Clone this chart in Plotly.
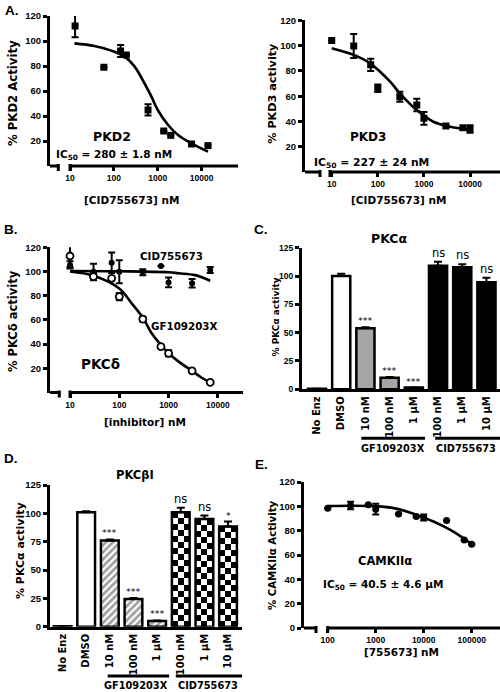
import base64
import plotly.graph_objects as go

W, H = 500, 692

# ---------------- data ----------------
# Panel A (left): PKD2
pkd2_conc = [13, 59, 142, 192, 600, 1370, 1980, 5900, 14000]
pkd2_act = [112, 79, 92, 88.8, 44.8, 28, 24.5, 17.6, 16.3]
pkd2_err = [9, 0, 4.7, 0, 4.5, 0, 0, 0, 0]
pkd2_fit_conc = [12.6, 36, 87, 176, 297, 500, 718, 1000, 1720, 2900, 5850, 14000]
pkd2_fit_act = [98.1, 96, 92.3, 87.5, 79.5, 66, 55.5, 44.8, 32.8, 24.8, 18.1, 11.5]

# Panel A (right): PKD3
pkd3_conc = [10, 30, 70, 100, 300, 700, 1000, 3000, 7000, 10000]
pkd3_act = [104, 99.8, 84.8, 66.3, 59.6, 53, 42.5, 36.4, 35, 34]
pkd3_err = [0, 9.5, 4.8, 3, 4, 5, 5, 0, 0, 3]
pkd3_fit_conc = [10, 30, 68, 185, 300, 700, 1600, 3700, 11000]
pkd3_fit_act = [98, 92.7, 86, 71.5, 62.3, 49, 39.8, 35.9, 33.3]

# Panel B: PKC delta
pkcd_conc = [10, 30, 70, 100, 300, 700, 1000, 3000, 7000]
cid_act = [105.4, 99.8, 107.3, 99.8, 99.3, 104.5, 91, 90.2, 101.2]
cid_err = [3, 6.6, 8.5, 9.6, 2.5, 0, 4, 3.5, 2.5]
gf_act = [112.8, 95.7, 94.4, 79.2, 60.7, 37.9, 32.4, 17.8, 8.4]
gf_err = [9, 3, 0, 3, 2, 0, 2.5, 0, 0]
cid_fit_conc = [10, 100, 1000, 1600, 3450, 7000]
cid_fit_act = [100.4, 100.2, 99.4, 98.5, 97, 92.4]
gf_fit_conc = [10, 30, 100, 178, 300, 454, 700, 1000, 1600, 3000, 4700, 7000]
gf_fit_act = [100, 96.5, 86, 73.7, 62, 48.9, 39.3, 32.4, 25.5, 17.8, 12.2, 8.4]

# Panels C and D: bar categories
bar_labels = ["No Enz", "DMSO", "10 nM", "100 nM", "1 \u03bcM", "100 nM", "1 \u03bcM", "10 \u03bcM"]
group_names = ["GF109203X", "CID755673"]

pkca_act = [0.5, 100, 53.8, 10.3, 1.5, 109, 107.7, 94.4]
pkca_err = [0, 2, 1, 0.6, 0, 3.6, 2.6, 4]
pkca_sig = ["", "", "***", "***", "***", "ns", "ns", "ns"]

pkcb_act = [0.5, 101, 76, 24.5, 5, 101, 95, 88.3]
pkcb_err = [0, 0.8, 1, 0.8, 0.5, 4, 3, 4.4]
pkcb_sig = ["", "", "***", "***", "***", "ns", "ns", "*"]

# Panel E: CAMKII alpha
camk_conc = [100, 300, 700, 1000, 3000, 7000, 10000, 30000, 70000, 100000]
camk_act = [98.5, 100.7, 101.2, 97.7, 93.8, 91.6, 90.8, 88.3, 72.4, 68.9]
camk_err = [0, 3, 0, 4.5, 0, 0, 2.5, 0, 0, 0]
camk_fit_conc = [100, 1200, 3000, 7000, 16000, 36000, 67000, 100000]
camk_fit_act = [100.3, 100, 97.7, 93, 87.5, 80.6, 73.8, 68.9]

# tick values
log_ticks_nm = [10, 100, 1000, 10000]
log_ticks_e = [100, 1000, 10000, 100000]
pct_ticks = [20, 40, 60, 80, 100, 120]
pct_ticks_e = [0, 20, 40, 60, 80, 100, 120]
bar_ticks = [0, 25, 50, 75, 100, 125]

# ---------------- styles ----------------
TICKF = dict(family="Liberation Sans, Arial, sans-serif", size=9.5, color="black", weight="bold")
TICKF_S = dict(family="Liberation Sans, Arial, sans-serif", size=8.5, color="black", weight="bold")
TXT = "DejaVu Sans, sans-serif"
LET = "Liberation Sans, Arial, sans-serif"
C_FILL_C = ["white", "white", "#a5a5a5", "#a5a5a5", "#a5a5a5", "black", "black", "black"]
D_FILL = ["white", "white", "white", "white", "white", "rgba(0,0,0,0)", "rgba(0,0,0,0)", "rgba(0,0,0,0)"]
D_PATTERN = ["", "", "/", "/", "/", "", "", ""]
BAR_W = 0.75


def yfrac(p):
    return 1 - p / H


def xaxis_log(dom, rng, vals, anchor):
    return dict(type="log", domain=[dom[0] / W, dom[1] / W], range=rng,
                tickmode="array", tickvals=vals, ticktext=[str(v) for v in vals],
                ticks="outside", ticklen=4, tickwidth=2.5, tickcolor="black",
                showline=False, showgrid=False, zeroline=False, tickfont=TICKF_S,
                anchor=anchor, fixedrange=True, automargin=False)


def xaxis_cat(dom, rng, anchor):
    idx = list(range(len(bar_labels)))
    return dict(domain=[dom[0] / W, dom[1] / W], range=rng, tickmode="array",
                tickvals=idx, ticktext=bar_labels, tickangle=-90, ticks="",
                showline=True, linewidth=3, linecolor="black", showgrid=False,
                zeroline=False, anchor=anchor, fixedrange=True, automargin=False,
                tickfont=dict(family=TXT, size=10, color="black", weight="bold"))


def yaxis_cfg(dom, rng, vals, anchor, tf=TICKF):
    return dict(domain=[yfrac(dom[1]), yfrac(dom[0])], range=rng, tickmode="array",
                tickvals=vals, ticktext=[str(v) for v in vals], ticks="outside",
                ticklen=4, tickwidth=2.5, tickcolor="black", showline=True,
                linewidth=3, linecolor="black", showgrid=False, zeroline=False,
                tickfont=tf, anchor=anchor, fixedrange=True, automargin=False)


def ann(text, xp, yp, size, family=TXT, weight="bold", angle=0, xanchor="center"):
    return dict(text=text, x=xp / W, y=yfrac(yp), xref="paper", yref="paper",
                showarrow=False, xanchor=xanchor, yanchor="middle", textangle=angle,
                font=dict(family=family, size=size, weight=weight, color="black"))


def broken_axis(x0, seg_end, seg_start, x1, yp):
    y = yfrac(yp)
    ln = dict(color="black", width=3)
    return [
        dict(type="line", xref="paper", yref="paper", x0=x0 / W, x1=seg_end / W, y0=y, y1=y, line=ln),
        dict(type="line", xref="paper", yref="paper", x0=seg_start / W, x1=x1 / W, y0=y, y1=y, line=ln),
        dict(type="line", xref="paper", yref="paper", x0=seg_end / W, x1=seg_end / W,
             y0=yfrac(yp - 2), y1=yfrac(yp + 5), line=dict(color="black", width=3)),
        dict(type="line", xref="paper", yref="paper", x0=seg_start / W, x1=seg_start / W,
             y0=yfrac(yp - 2), y1=yfrac(yp + 5), line=dict(color="black", width=3)),
    ]


def checker_src(ncols, nrows):
    rects = "".join(
        f'<rect x="{c}" y="{r}" width="1" height="1"/>'
        for r in range(nrows) for c in range(ncols) if (r + c) % 2 == 0)
    svg = (f'<svg xmlns="http://www.w3.org/2000/svg" width="{ncols * 10}" height="{nrows * 10}" '
           f'viewBox="0 0 {ncols} {nrows}" preserveAspectRatio="none" shape-rendering="crispEdges">'
           f'<rect width="{ncols}" height="{nrows}" fill="white"/><g fill="black">{rects}</g></svg>')
    return "data:image/svg+xml;base64," + base64.b64encode(svg.encode()).decode()


fig = go.Figure()

ebar = dict(type="data", thickness=2, width=3.5, color="black", visible=True)

def add_scatter(x, y, err, xa, ya, symbol, size, color="black", lw=0):
    fig.add_trace(go.Scatter(
        x=x, y=y, mode="markers", xaxis=xa, yaxis=ya,
        error_y=dict(ebar, array=err),
        marker=dict(symbol=symbol, size=size, color=color, line=dict(color="black", width=lw)),
        hoverinfo="skip"))

def add_fit(x, y, xa, ya):
    fig.add_trace(go.Scatter(
        x=x, y=y, mode="lines", xaxis=xa, yaxis=ya,
        line=dict(color="black", width=2.6, shape="spline", smoothing=1.0),
        hoverinfo="skip"))

# Panel A left
add_fit(pkd2_fit_conc, pkd2_fit_act, "x", "y")
add_scatter(pkd2_conc, pkd2_act, pkd2_err, "x", "y", "square", 7)
# Panel A right
add_fit(pkd3_fit_conc, pkd3_fit_act, "x2", "y2")
add_scatter(pkd3_conc, pkd3_act, pkd3_err, "x2", "y2", "square", 7)
# Panel B
add_fit(cid_fit_conc, cid_fit_act, "x3", "y3")
add_fit(gf_fit_conc, gf_fit_act, "x3", "y3")
add_scatter(pkcd_conc, cid_act, cid_err, "x3", "y3", "circle", 6)
add_scatter(pkcd_conc, gf_act, gf_err, "x3", "y3", "circle", 7, color="white", lw=1.8)
# Panel E
add_fit(camk_fit_conc, camk_fit_act, "x6", "y6")
add_scatter(camk_conc, camk_act, camk_err, "x6", "y6", "circle", 7)

idx = list(range(len(bar_labels)))
bar_err = dict(type="data", symmetric=False, thickness=2, width=4, color="black")
# Panel C
fig.add_trace(go.Bar(
    x=idx, y=pkca_act, width=BAR_W, xaxis="x4", yaxis="y4",
    marker=dict(color=C_FILL_C, line=dict(color="black", width=2.5)),
    error_y=dict(bar_err, array=pkca_err, arrayminus=[0] * len(idx)),
    hoverinfo="skip"))
# Panel D
fig.add_trace(go.Bar(
    x=idx, y=pkcb_act, width=BAR_W, xaxis="x5", yaxis="y5",
    marker=dict(color=D_FILL, line=dict(color="black", width=2.5),
                pattern=dict(shape=D_PATTERN, fgcolor="black", bgcolor="white",
                             size=5, solidity=0.55)),
    error_y=dict(bar_err, array=pkcb_err, arrayminus=[0] * len(idx)),
    hoverinfo="skip"))

# ---------------- layout ----------------
D_DOM_Y = (485, 626.7)
d_px_per_unit = (D_DOM_Y[1] - D_DOM_Y[0]) / 125
images = []
for i in idx[5:]:
    h_px = pkcb_act[i] * d_px_per_unit
    nrows = max(1, round(h_px / 5.9))
    images.append(dict(source=checker_src(3, nrows), xref="x5", yref="y5",
                       x=i - BAR_W / 2, y=pkcb_act[i], sizex=BAR_W, sizey=pkcb_act[i],
                       xanchor="left", yanchor="top", sizing="stretch", layer="below"))

shapes = []
shapes += broken_axis(50, 58.3, 70, 238, 166)
shapes += broken_axis(305, 320, 330, 500, 172)
shapes += broken_axis(50, 59.3, 70, 243, 392.5)
shapes += broken_axis(304, 316, 327.7, 500, 628)

# group lines under bar labels
for xa, yp, gf_rng, cid_rng in [("x4", 438.3, (1.83, 4.46), (4.88, 7.6)),
                                ("x5", 676, (1.91, 4.51), (4.79, 7.6))]:
    for r in (gf_rng, cid_rng):
        shapes.append(dict(type="line", xref=xa, yref="paper", x0=r[0], x1=r[1],
                           y0=yfrac(yp), y1=yfrac(yp), line=dict(color="black", width=3)))

annotations = [
    ann("A.", 3, 10, 13.5, family=LET, xanchor="left"),
    ann("B.", 2, 229, 13.5, family=LET, xanchor="left"),
    ann("C.", 252, 229, 13.5, family=LET, xanchor="left"),
    ann("D.", 2, 458, 13.5, family=LET, xanchor="left"),
    ann("E.", 253, 464, 13.5, family=LET, xanchor="left"),
    # Panel A left
    ann("% PKD2 Activity", 13, 93, 11.7, angle=-90),
    ann("[CID755673] nM", 131.7, 200, 10.5),
    ann("PKD2", 111.7, 136.7, 12.5),
    ann("IC<sub>50</sub> = 280 \u00b1 1.8 nM", 114, 155, 10.5),
    # Panel A right
    ann("% PKD3 activity", 271.7, 93, 11.2, angle=-90),
    ann("[CID755673] nM", 398.3, 200, 10.5),
    ann("PKD3", 367.5, 136.7, 12),
    ann("IC<sub>50</sub> = 227 \u00b1 24 nM", 371.7, 163, 10.8),
    # Panel B
    ann("% PKC\u03b4 activity", 13, 321, 11.5, angle=-90),
    ann("[inhibitor] nM", 145, 421.7, 10.5),
    ann("CID755673", 171.5, 256, 10.3),
    ann("GF109203X", 184.2, 326, 10.3),
    ann("PKC\u03b4", 100, 364, 13.5),
    # Panel C
    ann("PKC\u03b1", 389, 238, 12.5),
    ann("% PKC\u03b1 activity", 275, 317.5, 9, angle=-90),
    # Panel D
    ann("PKC\u03b2I", 135, 475, 11.5),
    ann("% PKC\u03b1 activity", 20, 551, 11, angle=-90),
    # Panel E
    ann("% CAMKII\u03b1 Activity", 272, 555, 10.2, angle=-90),
    ann("[755673] nM", 401.7, 652.3, 10.5),
    ann("CAMKII\u03b1", 385, 561, 11.5),
    ann("IC<sub>50</sub> = 40.5 \u00b1 4.6 \u03bcM", 382.5, 585, 10.5),
]

# group labels under bar panels
for xa, yp, centers in [("x4", 448.3, (3.12, 6.15)), ("x5", 685.5, (3.1, 6.15))]:
    for name, cx in zip(group_names, centers):
        annotations.append(dict(text=name, x=cx, y=yfrac(yp), xref=xa, yref="paper",
                                showarrow=False, xanchor="center", yanchor="middle",
                                font=dict(family=TXT, size=9.8, weight="bold", color="black")))

# significance marks above bars
for xa, ya, acts, errs, sigs in [("x4", "y4", pkca_act, pkca_err, pkca_sig),
                                 ("x5", "y5", pkcb_act, pkcb_err, pkcb_sig)]:
    for i, s in enumerate(sigs):
        if not s:
            continue
        big = s.startswith("n")
        annotations.append(dict(text=s, x=i, y=acts[i] + errs[i], xref=xa, yref=ya,
                                showarrow=False, xanchor="center", yanchor="bottom",
                                yshift=0 if big else -1,
                                font=dict(family=TXT, size=11.5 if big else 9.5, color="black")))

fig.update_layout(
    width=W, height=H, margin=dict(l=0, r=0, t=0, b=0, pad=0, autoexpand=False),
    paper_bgcolor="white", plot_bgcolor="rgba(0,0,0,0)", showlegend=False,
    xaxis=xaxis_log((50, 238), [0.542, 4.83], log_ticks_nm, "y"),
    yaxis=yaxis_cfg((16, 166), [0, 120], pct_ticks, "x"),
    xaxis2=xaxis_log((305, 500), [0.421, 4.65], log_ticks_nm, "y2"),
    yaxis2=yaxis_cfg((20.4, 172), [0, 120], pct_ticks, "x2"),
    xaxis3=xaxis_log((50, 243), [0.594, 4.51], log_ticks_nm, "y3"),
    yaxis3=yaxis_cfg((247.3, 392.5), [0, 120], pct_ticks, "x3"),
    xaxis4=xaxis_cat((302, 500), [-0.62, 7.56], "y4"),
    yaxis4=yaxis_cfg((247.7, 389.3), [0, 125], bar_ticks, "x4", tf=TICKF_S),
    xaxis5=xaxis_cat((50, 242), [-0.53, 7.59], "y5"),
    yaxis5=yaxis_cfg(D_DOM_Y, [0, 125], bar_ticks, "x5"),
    xaxis6=xaxis_log((304, 500), [1.506, 5.59], log_ticks_e, "y6"),
    yaxis6=yaxis_cfg((482, 628), [0, 120], pct_ticks_e, "x6"),
    shapes=shapes, annotations=annotations, images=images,
)

fig.write_html("out.html", config={"displayModeBar": False},
               post_script="document.body.style.margin='0px';")
